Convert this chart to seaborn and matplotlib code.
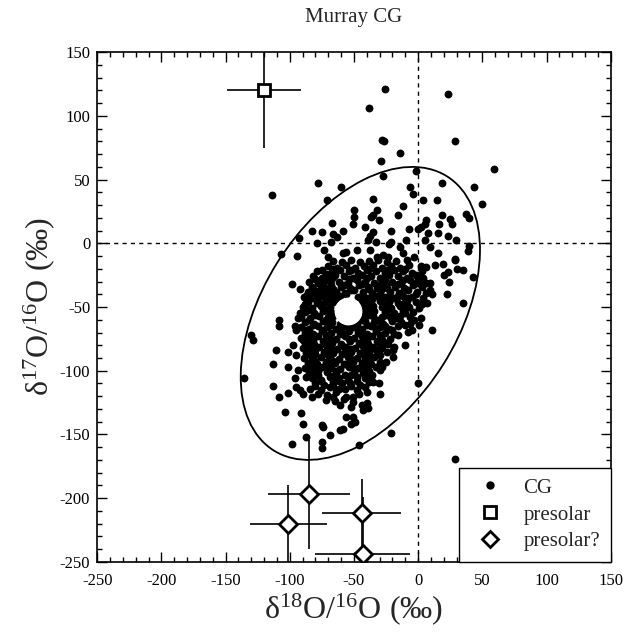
import numpy as np
import pandas as pd
import seaborn as sns
import matplotlib
matplotlib.use("Agg")
import matplotlib.pyplot as plt
from matplotlib.patches import Ellipse
from matplotlib.lines import Line2D
from matplotlib.ticker import MultipleLocator

# CG grains outside the dense core: (d18O, d17O) in permil
cg_halo = [
    (-26, 121), (23, 117), (-38.5, 106), (-28, 81), (-26.5, 80), (29, 80), (-14, 71),
    (-29, 65), (59, 58), (-2, 57), (-27.5, 53), (-60, 44), (18.5, 47), (43.5, 44),
    (-6.5, 44), (-4, 39), (-35, 35), (4, 34), (15, 34), (49.5, 31), (-12, 29),
    (-50, 26.5), (-32, 26), (-35.5, 22.5), (-37, 20.5), (-50, 20.5), (-15.5, 22),
    (18.5, 22), (37, 23), (40, 20), (-30.5, 18), (24.5, 19), (26, 15), (-51, 15),
    (-66.8, 16), (-41.5, 13), (6.5, 18), (5, 15.5), (2.5, 13), (0, 11), (16, 15),
    (-7.5, 11.5), (-58.5, 10), (-21, 9.5), (-35.5, 9), (-37.5, 5.5), (-39, 2.5),
    (8, 8), (15.5, 8), (23, 5.5), (29.5, 3), (-9.5, 3), (-21, 1), (-22.5, -0.5),
    (-32.5, 1), (5, 3), (9, -3), (40, -2), (39, -6), (15.5, -7.5), (-58.5, -7.5),
    (-56, -7), (-48, -5.5), (-37.5, -5.5), (-14.5, -3), (-12, -7.5), (-3, -10.5),
    (-27.5, -9.5), (-23.5, -11), (28.5, -12), (-32, -11), (-114, 38), (-78, 47),
    (-71, 34), (-82.5, 9.5), (-93, 4.5), (-74.5, 9), (-66, 7.5), (-63.5, 5),
    (-79, 0.5), (-68, 1), (-73, -5.5), (-70, -11), (-106.5, -8), (-94, -10),
    (29, -13), (13.5, -17), (19, -16), (23, -22.5), (20.5, -25), (30, -20), (35, -21),
    (24, -30.5), (42.5, -26.5), (22.5, -40), (35, -47), (11, -39.5), (6.5, -18.5),
    (1, -26.5), (6.5, -31.5), (9, -37), (3.5, -44.5), (0.5, -64), (11, -68), (-5, -68),
    (-8, -69.5), (-10.5, -80), (-18.5, -81), (-19.5, -84), (-19.5, -89), (-23.5, -79),
    (-32.5, -84), (0, -110), (-25, -93), (-28, -97), (-30, -99.5), (-36.5, -105),
    (-35, -109), (-30.5, -110), (-30, -118.5), (-41.5, -113), (-40, -116.5), (-53, -110),
    (-57, -114), (-50.5, -120.5), (-56, -120.5), (-66, -120.5), (-61, -127), (-44, -127),
    (-40, -125.5), (-39, -129.5), (-43, -131), (-50.5, -124.5), (-52, -128.5),
    (-56, -136), (-50.5, -136), (-52, -141.5), (-49.5, -140), (-61, -146.5),
    (-58.5, -145.5), (-21.5, -149), (-46, -158), (29, -169), (-69, -150.5),
    (-75, -21), (-71.5, -24), (-66.5, -26.5), (-98, -32), (-92, -35.5), (-87, -41),
    (-76.5, -37), (-73, -34), (-66.5, -37), (-92, -55), (-93.5, -59), (-108, -60.5),
    (-108, -65), (-96, -64.5), (-95, -68), (-89.5, -76), (-130.5, -72), (-128.5, -75.5),
    (-97.5, -80), (-111, -84), (-101, -85), (-95, -88), (-113, -94.5), (-101, -97),
    (-93.5, -99.5), (-96, -105.5), (-136, -105.5), (-87, -105), (-113, -112),
    (-101, -117.5), (-108, -120.5), (-95, -112.5), (-92, -115.5), (-89.5, -118),
    (-83, -121), (-104, -132), (-91, -133), (-90, -141.5), (-75, -142.5), (-74, -144.5),
    (-87, -152), (-74.5, -156), (-75, -161), (-98.5, -157.5),
]

# CG grains in the dense core (estimated, the dots merge into one blob)
cg_core = [
    (-66, -14), (-59, -15), (-52, -13), (-45, -15), (-38, -14), (-31, -13), (-24, -15), (-17, -14), (-9, -13),
    (-70, -18), (-63, -19), (-56, -17), (-49, -19), (-42, -18), (-35, -17), (-28, -19), (-21, -18), (-14, -19), (-7, -17), (2, -18),
    (-79, -22), (-68, -23), (-61, -21), (-54, -22), (-47, -23), (-40, -21), (-33, -22), (-26, -23), (-19, -21), (-12, -22), (-5, -23), (3, -22),
    (-82, -26), (-75, -27), (-65, -25), (-58, -26), (-51, -27), (-44, -25), (-37, -26), (-30, -27), (-23, -25), (-16, -26), (-9, -27), (-2, -25), (4, -27),
    (-85, -30), (-78, -31), (-71, -29), (-62, -30), (-55, -31), (-48, -29), (-41, -30), (-34, -31), (-27, -29), (-20, -30), (-13, -31), (-6, -29), (2, -30), (9, -31),
    (-83, -34), (-76, -35), (-68, -33), (-60, -34), (-53, -35), (-46, -33), (-39, -34), (-32, -35), (-25, -33), (-18, -34), (-11, -35), (-4, -33), (3, -34),
    (-86, -38), (-79, -39), (-72, -37), (-64, -38), (-57, -39), (-50, -37), (-43, -38), (-36, -39), (-29, -37), (-22, -38), (-15, -39), (-8, -37), (-1, -38), (6, -39),
    (-89, -42), (-82, -43), (-75, -41), (-68, -42), (-61, -41), (-47, -42), (-40, -43), (-33, -41), (-26, -42), (-19, -43), (-12, -41), (-5, -42), (4, -43),
    (-86, -46), (-79, -47), (-72, -45), (-66, -46), (-44, -46), (-37, -47), (-30, -45), (-23, -46), (-16, -47), (-9, -45), (-2, -46), (7, -47),
    (-90, -50), (-83, -51), (-76, -49), (-69, -50), (-42, -51), (-35, -49), (-28, -50), (-21, -51), (-14, -49), (-7, -50), (1, -51),
    (-88, -54), (-81, -55), (-74, -53), (-68, -54), (-41, -55), (-34, -53), (-26, -54), (-19, -55), (-12, -53), (-4, -54),
    (-91, -58), (-84, -59), (-77, -57), (-70, -58), (-42, -59), (-35, -57), (-28, -58), (-21, -59), (-14, -57), (-6, -58), (2, -59),
    (-88, -62), (-81, -63), (-74, -61), (-67, -62), (-61, -63), (-54, -64), (-48, -63), (-41, -61), (-34, -62), (-27, -63), (-20, -61), (-13, -62), (-6, -63),
    (-91, -66), (-85, -67), (-78, -65), (-71, -66), (-64, -67), (-57, -65), (-50, -66), (-44, -67), (-37, -65), (-30, -66), (-23, -67), (-16, -65),
    (-88, -70), (-82, -71), (-75, -69), (-68, -70), (-61, -71), (-54, -69), (-47, -70), (-40, -71), (-33, -69), (-26, -70), (-19, -71),
    (-91, -74), (-85, -75), (-78, -73), (-71, -74), (-64, -75), (-57, -73), (-50, -74), (-43, -75), (-36, -73), (-29, -74), (-22, -75),
    (-88, -78), (-81, -79), (-74, -77), (-67, -78), (-60, -79), (-53, -77), (-46, -78), (-39, -79), (-32, -77), (-26, -78),
    (-90, -82), (-84, -83), (-77, -81), (-70, -82), (-63, -83), (-56, -81), (-49, -82), (-42, -83), (-35, -81), (-28, -82),
    (-87, -86), (-80, -87), (-73, -85), (-66, -86), (-59, -87), (-52, -85), (-45, -86), (-38, -87), (-31, -85),
    (-89, -90), (-83, -91), (-76, -89), (-69, -90), (-62, -91), (-55, -89), (-48, -90), (-41, -91), (-34, -89),
    (-86, -94), (-79, -95), (-72, -93), (-65, -94), (-58, -95), (-51, -93), (-44, -94), (-37, -95), (-30, -93),
    (-88, -98), (-82, -99), (-75, -97), (-68, -98), (-61, -99), (-54, -97), (-47, -98), (-40, -99), (-33, -97),
    (-85, -102), (-78, -103), (-71, -101), (-64, -102), (-57, -103), (-50, -101), (-43, -102), (-36, -103),
    (-83, -106), (-76, -107), (-69, -105), (-62, -106), (-55, -107), (-48, -105), (-41, -106),
    (-80, -110), (-73, -111), (-66, -109), (-59, -110), (-45, -111), (-38, -109),
    (-84, -114), (-76, -115), (-69, -113), (-62, -114), (-48, -115),
    (-78, -118), (-71, -119), (-64, -117), (-46, -118),
    (-72, -123), (-65, -124), (-58, -122),
]

# more core grains filling the gaps between the ones above
cg_core_fill = [
    (-66, -20), (-52, -21), (-38, -20), (-24, -21), (-10, -20),
    (-80, -28), (-68, -29), (-54, -28), (-40, -27), (-26, -28), (-12, -29), (0, -28),
    (-74, -32), (-58, -33), (-44, -32), (-30, -33), (-16, -32), (-2, -31),
    (-82, -36), (-66, -36), (-52, -37), (-38, -36), (-24, -35), (-10, -36),
    (-84, -40), (-70, -40), (-56, -40), (-44, -41), (-30, -40), (-16, -41), (-2, -40),
    (-78, -44), (-64, -44), (-36, -44), (-22, -44), (-8, -43),
    (-88, -48), (-74, -48), (-38, -48), (-25, -48), (-11, -47), (3, -48),
    (-86, -52), (-72, -52), (-38, -53), (-24, -52), (-10, -51),
    (-80, -56), (-66, -57), (-38, -56), (-24, -56), (-10, -55),
    (-85, -60), (-72, -60), (-58, -61), (-44, -60), (-31, -60), (-17, -59), (-3, -60),
    (-82, -64), (-68, -64), (-52, -62), (-40, -64), (-26, -65), (-10, -64),
    (-88, -68), (-74, -68), (-60, -68), (-47, -68), (-33, -67), (-20, -68),
    (-86, -72), (-72, -72), (-58, -71), (-44, -73), (-30, -72), (-16, -72),
    (-82, -76), (-68, -76), (-54, -75), (-40, -77), (-28, -76),
    (-86, -80), (-72, -80), (-58, -81), (-44, -80), (-30, -79),
    (-80, -84), (-66, -84), (-52, -83), (-38, -84), (-24, -85),
    (-84, -88), (-70, -88), (-56, -87), (-42, -88), (-30, -88),
    (-80, -92), (-66, -92), (-52, -91), (-38, -92),
    (-84, -96), (-70, -96), (-56, -95), (-42, -96),
    (-78, -100), (-64, -100), (-50, -99), (-38, -100),
    (-80, -104), (-66, -104), (-52, -103), (-40, -104),
    (-76, -108), (-62, -108), (-48, -108),
    (-80, -112), (-66, -112), (-52, -112),
]

# mean of the CG population (white disc)
cg_mean_x = [-55]
cg_mean_y = [-53]

# presolar grain, with error bars
presolar_x = [-120]
presolar_y = [120]
presolar_xerr = [29]
presolar_yerr = [45]

# possible presolar grains, with error bars
maybe_x = [-85, -101, -44, -43]
maybe_y = [-197, -220, -212, -244]
maybe_xerr = [32, 30, 31, 37]
maybe_yerr = [43, 30, 27, 45]

# ellipse around the CG population
ell_center = (-45, -55)
ell_width = 254
ell_height = 152
ell_angle = 58

cg = pd.DataFrame(cg_halo + cg_core + cg_core_fill, columns=["d18O", "d17O"])

sns.set_theme(style="ticks")
plt.rcParams["font.family"] = ["Liberation Serif", "DejaVu Serif"]
plt.rcParams["mathtext.fontset"] = "custom"
plt.rcParams["mathtext.rm"] = "Liberation Serif"
plt.rcParams["mathtext.it"] = "Liberation Serif:italic"
plt.rcParams["axes.unicode_minus"] = False

fig = plt.figure(figsize=(6.27, 6.37), dpi=100)
ax = fig.add_axes([0.155, 0.118, 0.819, 0.800])

ax.axhline(0, color="black", lw=1.0, ls=(0, (3, 3)), zorder=1)
ax.axvline(0, color="black", lw=1.0, ls=(0, (3, 3)), zorder=1)

ax.add_patch(Ellipse(ell_center, ell_width, ell_height, angle=ell_angle,
                     fill=False, edgecolor="black", lw=1.3, zorder=2))

sns.scatterplot(data=cg, x="d18O", y="d17O", ax=ax, color="black", s=32,
                linewidth=0, zorder=3, legend=False)
ax.plot(cg_mean_x, cg_mean_y, "o", ms=19, mfc="white", mec="white", zorder=4)

ax.errorbar(presolar_x, presolar_y, xerr=presolar_xerr, yerr=presolar_yerr,
            fmt="s", ms=9, mfc="white", mec="black", mew=2, ecolor="black",
            elinewidth=1.2, capsize=0, zorder=5)
ax.errorbar(maybe_x, maybe_y, xerr=maybe_xerr, yerr=maybe_yerr,
            fmt="D", ms=9, mfc="white", mec="black", mew=2, ecolor="black",
            elinewidth=1.2, capsize=0, zorder=5)

ax.set_xlim(-250, 150)
ax.set_ylim(-250, 150)
ax.xaxis.set_major_locator(MultipleLocator(50))
ax.yaxis.set_major_locator(MultipleLocator(50))
ax.xaxis.set_minor_locator(MultipleLocator(10))
ax.yaxis.set_minor_locator(MultipleLocator(10))
ax.tick_params(which="both", direction="in", top=True, right=True, width=1,
               colors="black", labelsize=12)
ax.tick_params(which="major", length=7)
ax.tick_params(which="minor", length=3.5)
ax.tick_params(axis="x", which="major", pad=8)
ax.tick_params(axis="y", which="major", pad=5)
for sp in ax.spines.values():
    sp.set_linewidth(1.2)
    sp.set_color("black")

ax.set_xlabel(r"δ$^{18}$O/$^{16}$O (‰)", fontsize=23, labelpad=2)
ax.set_ylabel(r"δ$^{17}$O/$^{16}$O (‰)", fontsize=23, labelpad=2)
ax.set_title("Murray CG", fontsize=15, pad=22)

handles = [
    Line2D([], [], marker="o", ls="", color="black", ms=5, label="CG"),
    Line2D([], [], marker="s", ls="", mfc="white", mec="black", mew=2, ms=9, label="presolar"),
    Line2D([], [], marker="D", ls="", mfc="white", mec="black", mew=2, ms=8, label="presolar?"),
]
leg = ax.legend(handles=handles, loc="lower right", borderaxespad=0, fancybox=False,
                edgecolor="black", framealpha=1, fontsize=15, handletextpad=0.6,
                borderpad=0.5, labelspacing=0.35)
leg.get_frame().set_linewidth(1.0)

fig.savefig("out.png", dpi=100)
